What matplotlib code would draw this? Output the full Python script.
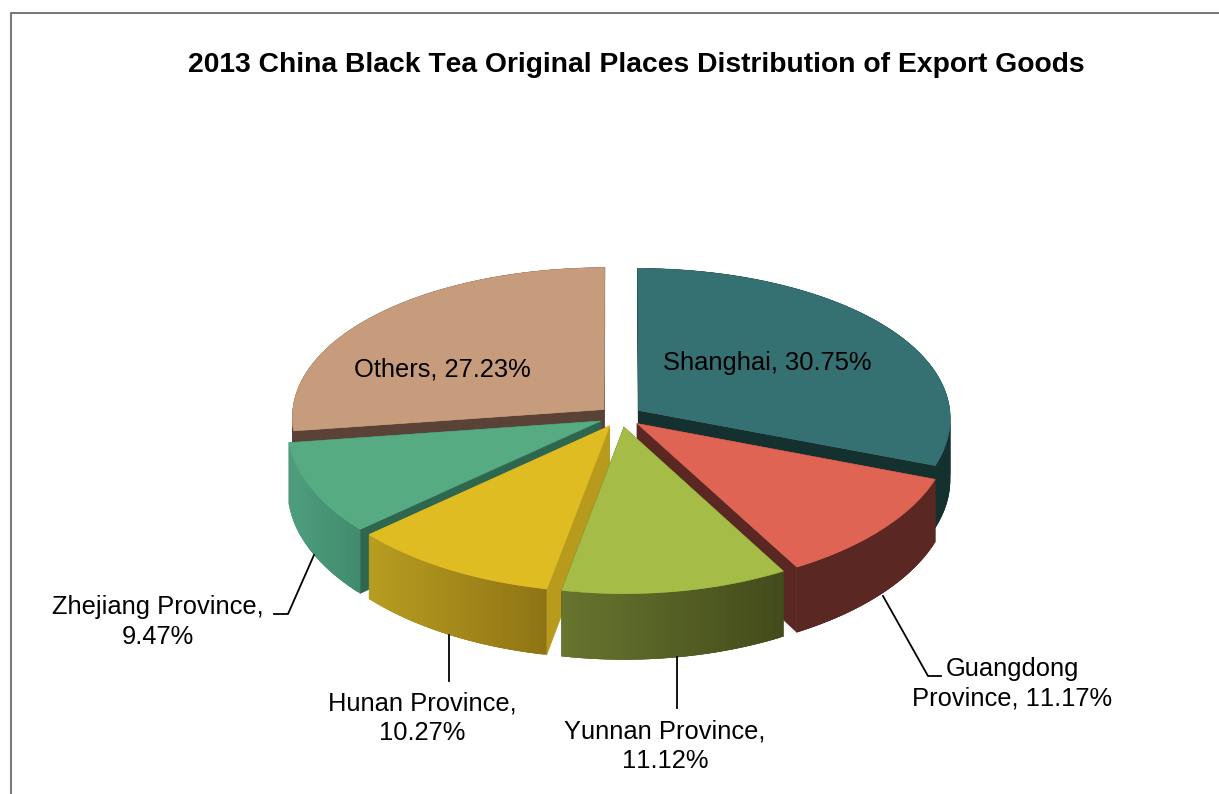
import numpy as np
import matplotlib
matplotlib.use("Agg")
import matplotlib.pyplot as plt
from matplotlib.collections import PolyCollection
from matplotlib.colors import to_rgb

plt.rcParams['font.family'] = ['Liberation Sans', 'DejaVu Sans']
plt.rcParams['text.kerning_factor'] = 6

# ---- data ----
categories = ["Shanghai", "Guangdong Province", "Yunnan Province",
              "Hunan Province", "Zhejiang Province", "Others"]
shares = [30.75, 11.17, 11.12, 10.27, 9.47, 27.23]
title = "2013 China Black Tea Original Places Distribution of Export Goods"

# ---- style ----
top_colors = ["#357072", "#DF6453", "#A5BD47", "#E0BC23", "#56AB83", "#C79C7C"]
inner_colors = ["#14312F", "#5A2723", "#434B1B", "#B89A1C", "#2F6650", "#5A4336"]
outer_left = ["#14312F", "#5A2723", "#67752E", "#B79D20", "#4E9E7E", "#5A4336"]
outer_right = ["#14312F", "#5A2723", "#434B1B", "#8F7415", "#418B6D", "#5A4336"]
draw_order = [5, 0, 4, 1, 3, 2]

CX, CY, RX, RY, KX, KY, H, EXPL = 620.0, 416.0, 312.0, 153.0, 0.05, 0.0714, 61.0, 22.0 / 314.0

fig = plt.figure(figsize=(12.19, 7.94), dpi=100)
ax = fig.add_axes([0, 0, 1, 1])
ax.set_xlim(0, 1219)
ax.set_ylim(794, 0)
ax.axis("off")


def project(u, v, drop=0.0):
    """u: right, v: toward viewer, world units; returns pixel coordinates."""
    sx = 1.0 / (1.0 - KX * v)
    sy = 1.0 / (1.0 - KY * v)
    return CX + RX * u * sx, CY + (RY * v + drop) * sy


def poly(points, color, z, lw=0.4):
    ax.add_collection(PolyCollection([points], facecolors=color, edgecolors=color,
                                     linewidths=lw, zorder=z))


totals = np.cumsum([0.0] + shares)
scale = 360.0 / totals[-1]
z = 1
for i in draw_order:
    a0, a1 = np.radians(totals[i] * scale), np.radians(totals[i + 1] * scale)
    mid = (a0 + a1) / 2
    ox, oy = EXPL * np.sin(mid), -EXPL * np.cos(mid)
    th = np.linspace(a0, a1, 90)
    us, vs = ox + np.sin(th), oy - np.cos(th)

    # inner walls
    for a in (a0, a1):
        ue, ve = ox + np.sin(a), oy - np.cos(a)
        pts = [project(ox, oy), project(ue, ve), project(ue, ve, H), project(ox, oy, H)]
        poly(pts, inner_colors[i], z)
        z += 1

    # outer wall, shaded strip by strip along the arc; each strip overlaps the next
    c0, c1 = np.array(to_rgb(outer_left[i])), np.array(to_rgb(outer_right[i]))
    px = np.array([project(u, v)[0] for u, v in zip(us, vs)])
    span = max(px.max() - px.min(), 1.0)
    for j in range(len(th) - 1):
        t = (0.5 * (px[j] + px[j + 1]) - px.min()) / span
        col = tuple(c0 + (c1 - c0) * t)
        k = min(j + 3, len(th) - 1)
        seg = [project(us[m], vs[m]) for m in range(j, k + 1)]
        seg += [project(us[m], vs[m], H) for m in range(k, j - 1, -1)]
        poly(seg, col, z, lw=0.0)
        z += 1

    # top face
    pts = [project(ox, oy)] + [project(u, v) for u, v in zip(us, vs)]
    poly(pts, top_colors[i], z + 1)
    z += 2

TZ = 2000
FS = 18.4
ax.text(636, 64.5, title, ha="center", va="center", fontsize=20.3, fontweight="bold",
        color="black", zorder=TZ)
label_items = [
    (767, 363, f"{categories[0]}, {shares[0]:.2f}%", "center"),
    (1012, 684, "Guangdong\nProvince, " + f"{shares[1]:.2f}%", "center"),
    (665, 746, f"{categories[2]},\n{shares[2]:.2f}%", "center"),
    (422, 718, f"{categories[3]},\n{shares[3]:.2f}%", "center"),
    (158, 622, f"{categories[4]},\n{shares[4]:.2f}%", "center"),
    (442, 370, f"{categories[5]}, {shares[5]:.2f}%", "center"),
]
for x, y, s, ha in label_items:
    ax.text(x, y, s, ha=ha, va="center", fontsize=FS, color="black",
            linespacing=1.27, zorder=TZ)

leaders = [
    ([883, 928, 941], [596, 676, 676]),
    ([677, 677], [657, 708]),
    ([449, 449], [635, 681]),
    ([314, 288, 274], [555, 614, 614]),
]
for xs, ys in leaders:
    ax.plot(xs, ys, color="black", lw=1.3, zorder=TZ)

ax.plot([11, 11, 1219], [794, 13, 13], color="#7a7a7a", lw=1.5, zorder=TZ)

fig.savefig("out.png", dpi=100)
